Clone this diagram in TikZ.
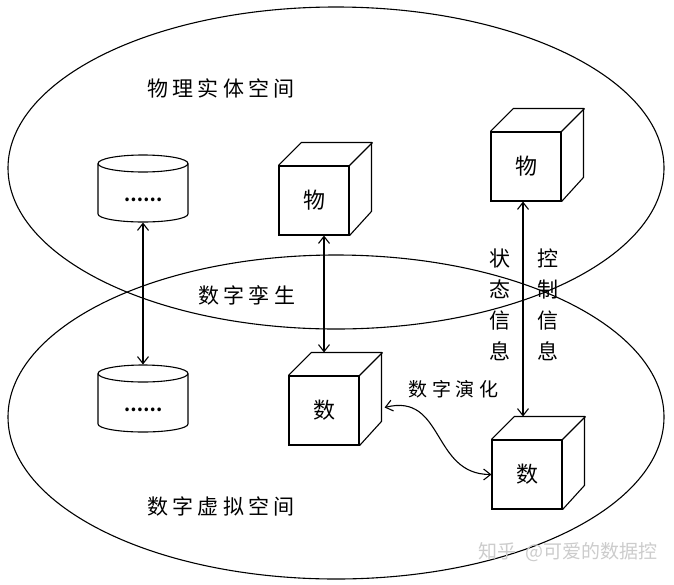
\documentclass[tikz,border=0pt]{standalone}
\usepackage{fontspec}
\newfontfamily\cjk{Noto Sans CJK SC}
\newfontfamily\cjksp[LetterSpace=20]{Noto Sans CJK SC}
\newfontfamily\cjkspb[LetterSpace=24]{Noto Sans CJK SC}
\usetikzlibrary{arrows.meta,calc}
\newcommand\mycube[3]{%
  \node[face] (#1) at (#2) {#3};
  \draw[mjoin] (#1.north west) -- ++(23,-23) -- ++(70,0) -- ++(0,69) -- (#1.south east);
  \draw (#1.north east) -- ++(23,-23);
}
\newcommand\mycyl[3]{% name, center x, top-ellipse center y
  \node[minimum width=90pt, minimum height=67pt, inner sep=0pt] (#1) at (#2,#3+25) {};
  \draw (#2,#3) ellipse [x radius=45pt, y radius=8.5pt];
  \draw[mjoin] (#2-45,#3) -- (#2-45,#3+50.5)
    .. controls (#2-45,#3+54.9) and (#2-24.85,#3+58.5) .. (#2,#3+58.5)
    .. controls (#2+24.85,#3+58.5) and (#2+45,#3+54.9) .. (#2+45,#3+50.5)
    -- (#2+45,#3);
}
\begin{document}
\begin{tikzpicture}[x=1pt,y=-1pt, line width=1.1pt,
  every node/.style={font=\cjk\fontsize{22}{26}\selectfont},
  face/.style={draw, minimum width=70pt, minimum height=69pt, inner sep=0pt},
  mjoin/.style={line join=miter},
  dbl/.style={{Straight Barb[length=7pt,width=11pt]}-{Straight Barb[length=7pt,width=11pt]}},
  lbl/.style={font=\cjksp\fontsize{21}{24}\selectfont, anchor=west, inner sep=0pt},
  vlbl/.style={font=\cjk\fontsize{21}{31}\selectfont, align=center, inner sep=0pt},
  dots/.style={font=\cjk\bfseries\fontsize{17}{20}\selectfont, inner sep=0pt},
]
\useasboundingbox[fill=white] (0,0) rectangle (674,584);

% the two spaces
\draw (336,168) ellipse [x radius=328pt, y radius=161pt];
\draw (336,417) ellipse [x radius=328pt, y radius=162pt];

% labels
\node[lbl] (phys) at (147,88) {物理实体空间};
\node[lbl] (twin) at (198,295) {数字孪生};
\node[lbl] (virt) at (147,506) {数字虚拟空间};
\node[lbl, font=\cjkspb\fontsize{19}{22}\selectfont] (evo) at (408,389) {数字演化};
\node[vlbl] (state) at (500,305) {状\\态\\信\\息};
\node[vlbl] (ctrl) at (548,305) {控\\制\\信\\息};

% cylinders
\mycyl{c1}{143}{163.5}
\node[dots] (d1) at (143,200) {……};
\mycyl{c2}{143}{373.5}
\node[dots] (d2) at (143,410) {……};

% cubes
\mycube{m1}{314,200.5}{物}
\mycube{m2}{324,410.5}{数}
\mycube{r1}{526,166.5}{物}
\mycube{r2}{527,474.5}{数}

% connectors
\draw[dbl] (c1.south) -- (c2.north);
\draw[dbl] ($(m1.south)+(10,0)$) -- ($(m2.north)+(0,-23)$);
\draw[dbl] ($(r1.south)+(-3,0)$) -- ($(r2.north)+(-4,-23)$);
\draw[dbl] ($(m2.east)+(25,-3)$) .. controls +(60,-15) and +(-60,0) .. (r2.west);

% watermark
\node[font=\cjk\fontsize{19}{22}\selectfont, text=gray!40, anchor=west, inner sep=0pt] (wm) at (478,552) {知乎\ \ @可爱的数据控};
\end{tikzpicture}
\end{document}
